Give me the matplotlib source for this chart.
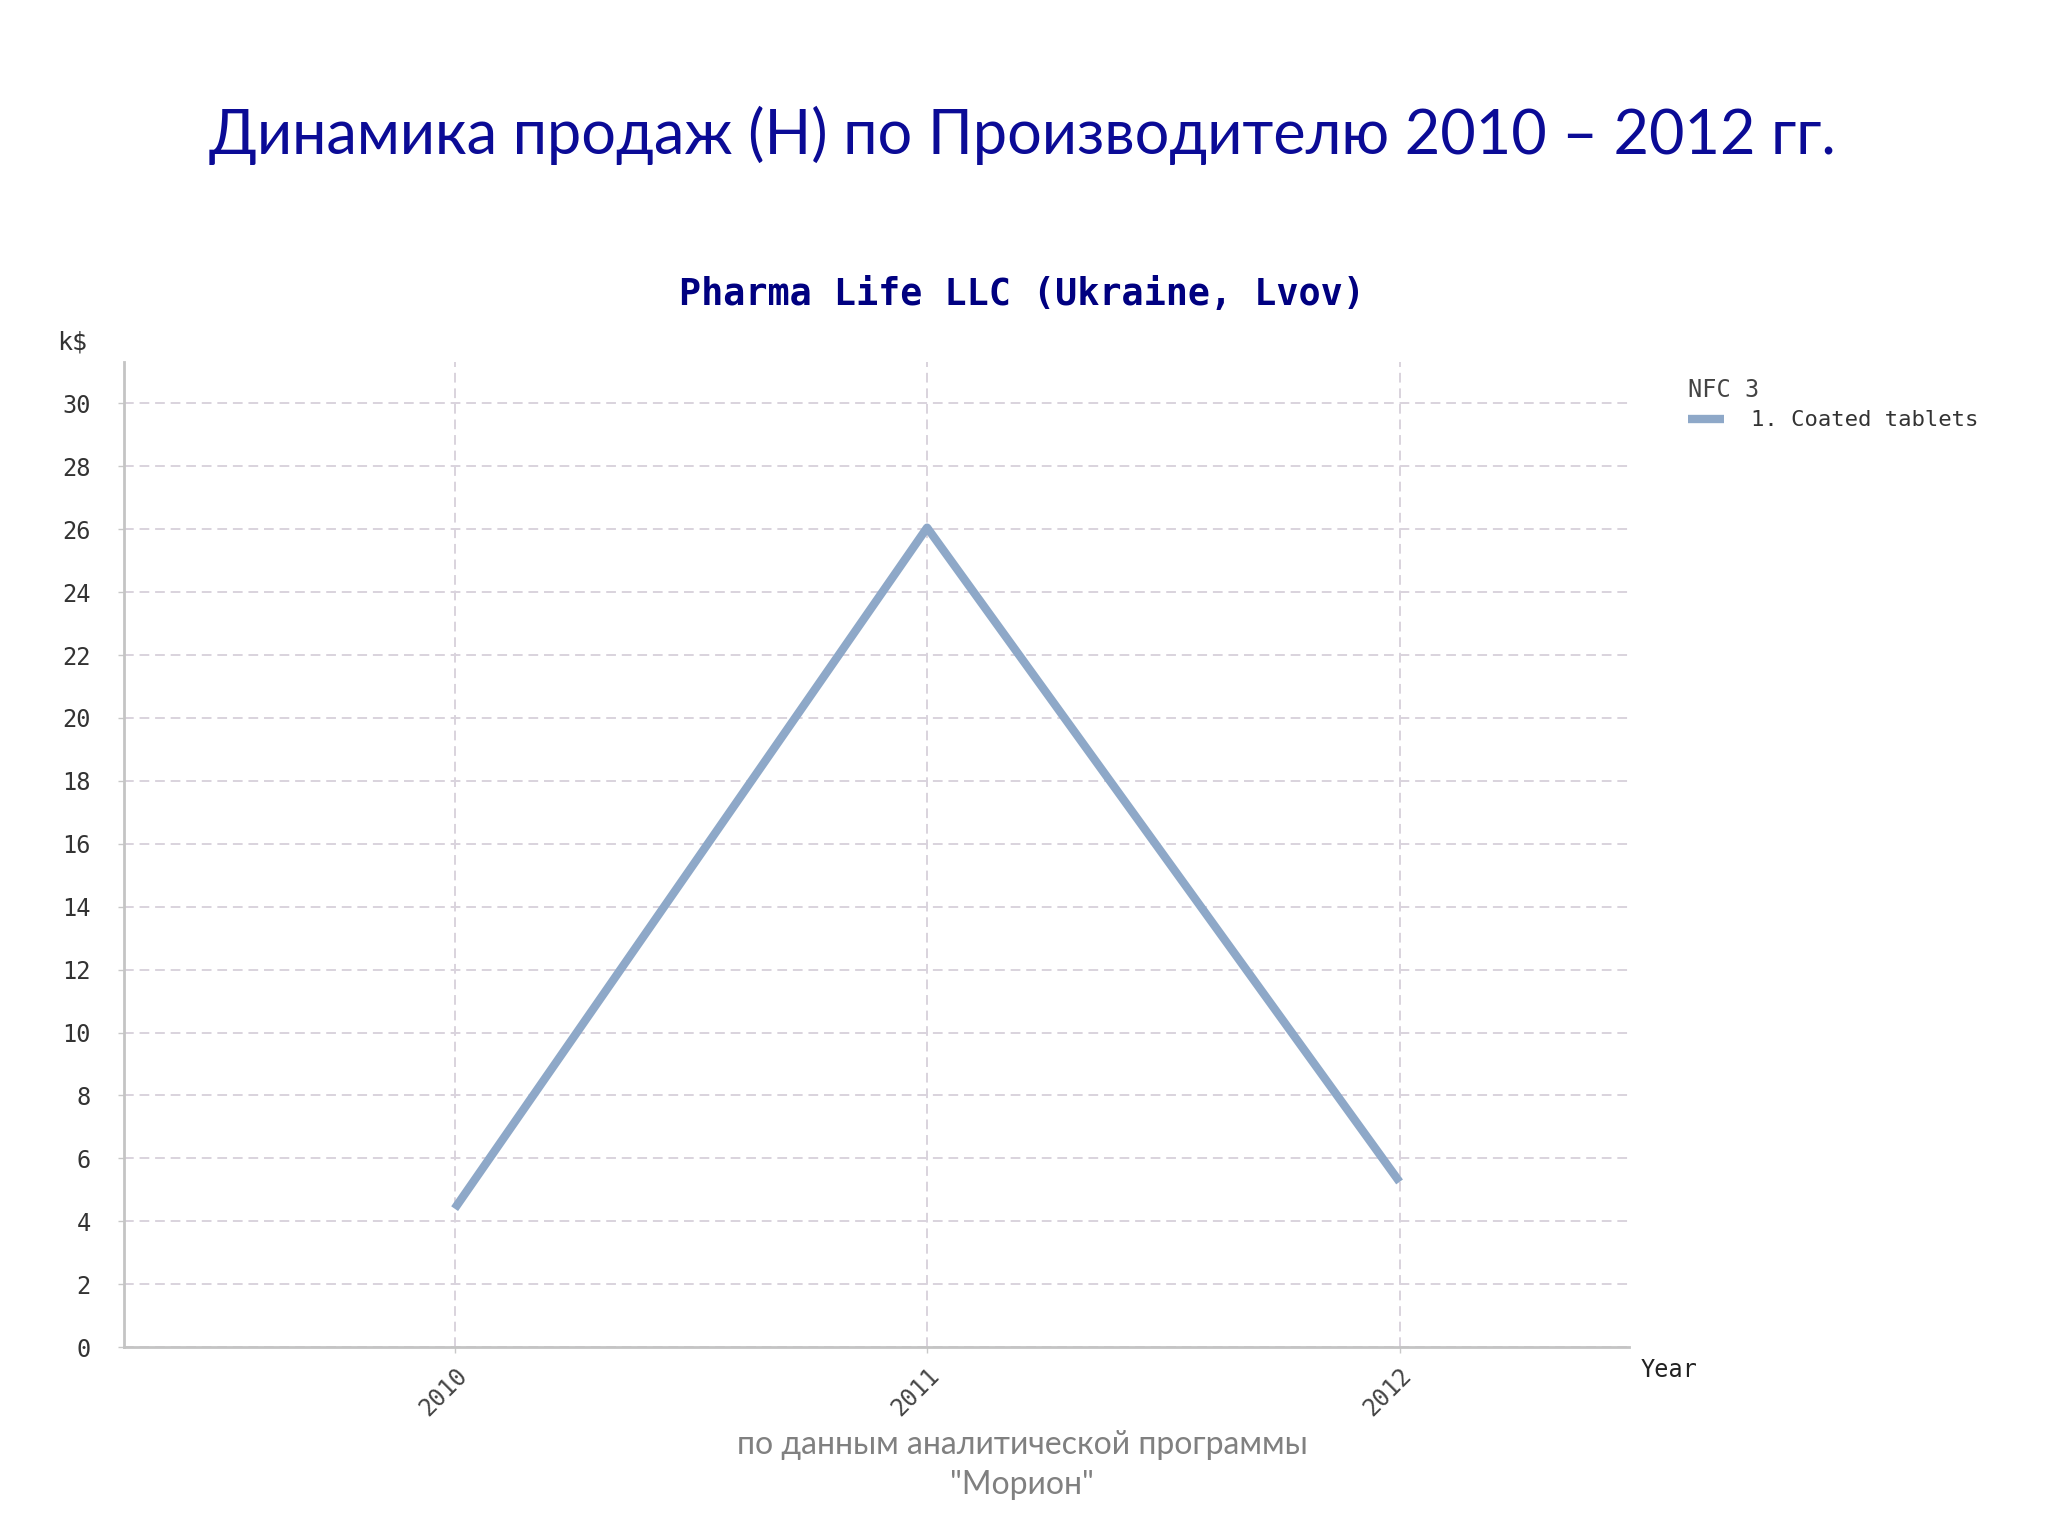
import matplotlib
matplotlib.use("Agg")
import matplotlib.pyplot as plt

years = [2010, 2011, 2012]
year_labels = ["2010", "2011", "2012"]
sales = [4.4, 26.05, 5.25]
y_ticks = list(range(0, 31, 2))

line_color = "#8ea8c8"
grid_color = "#d9d3dd"
navy = "#000080"

fig = plt.figure(figsize=(20.48, 15.36), dpi=100)
ax = fig.add_axes([0.0605, 0.123, 0.735, 0.641])

ax.plot(years, sales, color=line_color, linewidth=6, solid_capstyle="butt",
        label="1. Coated tablets")

ax.set_xlim(2009.30, 2012.486)
ax.set_ylim(0, 31.3)
ax.set_xticks(years)
ax.set_xticklabels(year_labels, rotation=45, ha="right", va="top",
                   rotation_mode="anchor", fontsize=17, color="#444444",
                   family="DejaVu Sans Mono")
ax.set_yticks(y_ticks)
ax.set_yticklabels([str(t) for t in y_ticks], fontsize=17, color="#333333",
                   family="DejaVu Sans Mono")
ax.tick_params(axis="both", length=4, color="#c8c8c8", width=1)
ax.tick_params(axis="y", pad=20)
ax.tick_params(axis="x", pad=8)

ax.grid(True, color=grid_color, linestyle=(0, (5, 3)), linewidth=1.4)
ax.set_axisbelow(True)
for side in ["top", "right"]:
    ax.spines[side].set_visible(False)
for side in ["left", "bottom"]:
    ax.spines[side].set_color("#c4c4c4")
    ax.spines[side].set_linewidth(2)

leg = ax.legend(loc="upper left", bbox_to_anchor=(1.026, 1.005), frameon=False,
                title="NFC 3", handlelength=1.6, handletextpad=1.2,
                labelspacing=0.4,
                prop={"family": "DejaVu Sans Mono", "size": 16})
leg.get_title().set_fontsize(17)
leg.get_title().set_family("DejaVu Sans Mono")
leg.get_title().set_color("#444444")
leg._legend_box.align = "left"
for t in leg.get_texts():
    t.set_color("#333333")

fig.text(0.028, 0.777, "k$", fontsize=18, color="#333333",
         family="DejaVu Sans Mono", ha="left", va="center")
fig.text(0.801, 0.108, "Year", fontsize=17, color="#222222",
         family="DejaVu Sans Mono", ha="left", va="center")

fig.text(0.499, 0.808, "Pharma Life LLC (Ukraine, Lvov)", fontsize=26.5,
         fontweight="bold", color=navy, family="DejaVu Sans Mono",
         ha="center", va="center")

fig.text(0.499, 0.912, "Динамика продаж (Н) по Производителю 2010 – 2012 гг.",
         fontsize=44, color="#0b0b96", family="Lato", ha="center", va="center")

fig.text(0.499, 0.059, "по данным аналитической программы", fontsize=23,
         color="#808080", family="Lato", ha="center", va="center")
fig.text(0.499, 0.033, "\"Морион\"", fontsize=23,
         color="#808080", family="Lato", ha="center", va="center")

fig.savefig("out.png", dpi=100, facecolor="white")
